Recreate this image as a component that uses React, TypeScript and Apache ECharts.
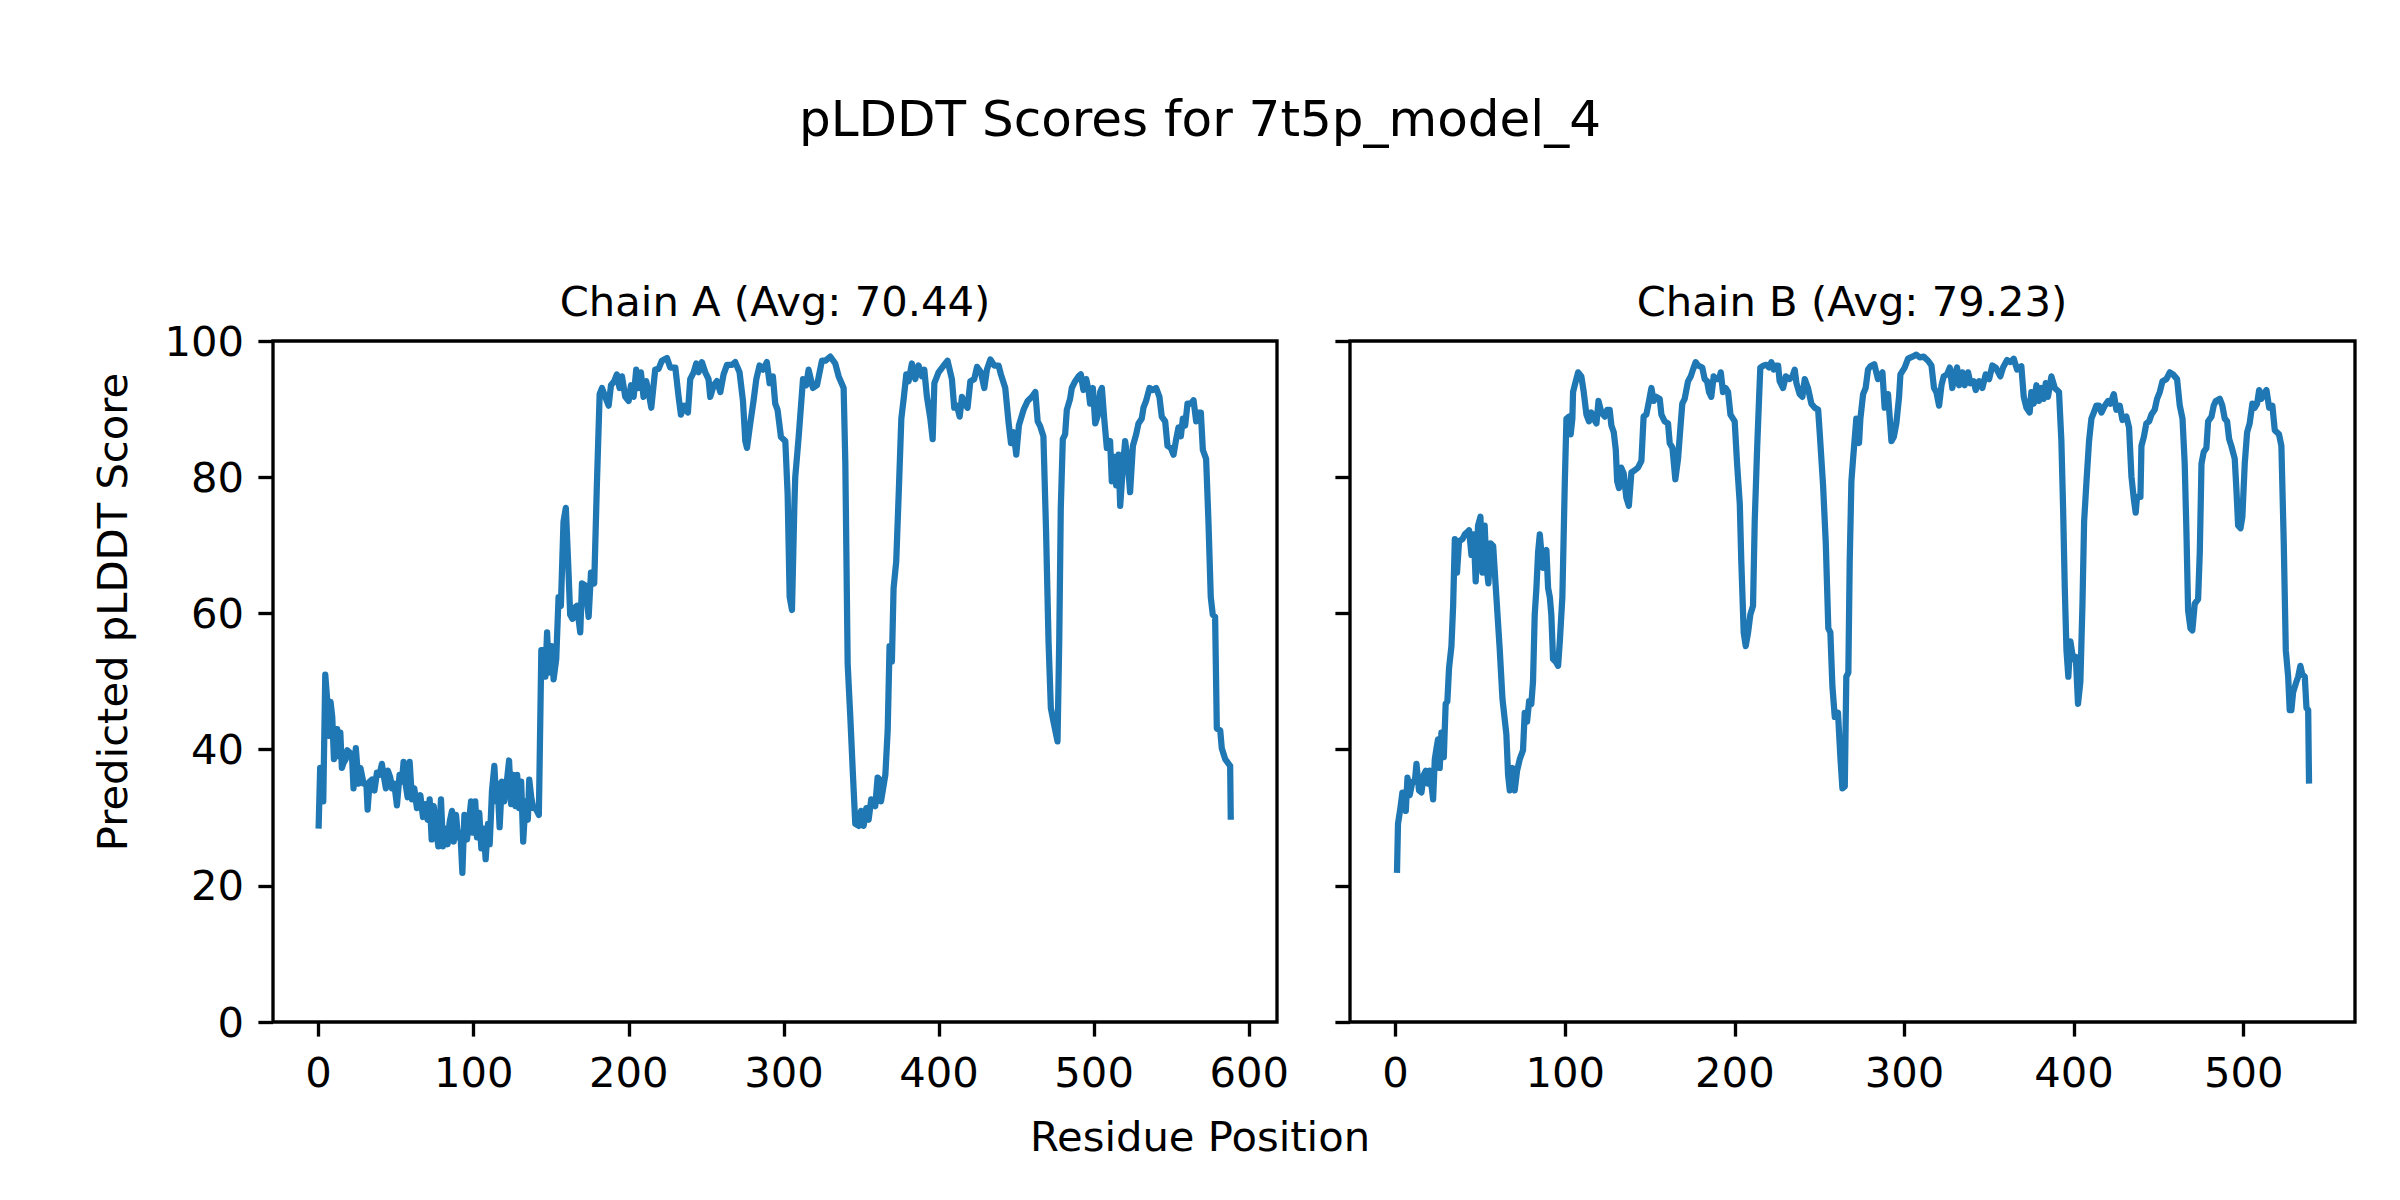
import React, { useEffect, useRef } from "react";
import * as echarts from "echarts";

const figureTitle = "pLDDT Scores for 7t5p_model_4";
const chainTitles = ["Chain A (Avg: 70.44)", "Chain B (Avg: 79.23)"];
const xAxisTitle = "Residue Position";
const yAxisTitle = "Predicted pLDDT Score";

const xTicksA = [0, 100, 200, 300, 400, 500, 600];
const xTicksB = [0, 100, 200, 300, 400, 500];
const yTicks = [0, 20, 40, 60, 80, 100];

const chainAData: number[][] = [
  [0, 28.4], [1, 37.3], [2, 37.3], [3, 32.4], [4.3, 51], [5.5, 47.4], [6.6, 42], [7.7, 47], [8.8, 44.8], [9.9, 38.6],
  [11, 43], [12, 43], [13, 39], [14, 42.5], [15, 37.3], [16, 38], [17.5, 38.6], [18.5, 39.9], [20.5, 39.5], [21.5, 39.2],
  [22.5, 34.3], [24, 40.2], [25.8, 35], [27, 37.3], [29, 35], [30.8, 35], [31.6, 31.2], [32.9, 35.3], [34.4, 35.6], [36, 34],
  [37.6, 36.6], [39.3, 36.3], [40.8, 37.9], [41.9, 36.3], [43.4, 34.3], [44.7, 36.9], [46.2, 35.9], [47.3, 34.3], [48.8, 35],
  [50.5, 31.8], [52.2, 36.3], [53.7, 35.3], [54.8, 38.2], [56.3, 34.6], [57.4, 33], [58.7, 38.2], [60.2, 32.7], [61.7, 34.3],
  [63.4, 31.4], [65.6, 33.3], [67.3, 30.1], [68.8, 32], [70.3, 29.7], [71.6, 32.7], [72.9, 26.8], [74.2, 31.7], [75.7, 28.4],
  [77.2, 25.8], [78.9, 32.7], [80.2, 25.8], [81.7, 28.4], [83.2, 26.1], [84.5, 29.4], [86, 31], [87.1, 26.5], [88.6, 30.4],
  [89.9, 27.1], [91.4, 27.8], [92.7, 21.9], [94, 30.4], [95.7, 26.8], [96.8, 29.1], [98.3, 32.4], [99.6, 27.8], [101, 32.4],
  [102.1, 27.1], [103.6, 30.7], [104.9, 25.5], [106.4, 28.4], [107.7, 23.9], [109.2, 29.1], [110.3, 26.1], [111.8, 34],
  [113.3, 37.6], [114.6, 32.4], [115.4, 35], [116.7, 28.6], [118.2, 35.3], [119.7, 32.4], [121.5, 35.6], [122.8, 38.4],
  [124.1, 32], [125.4, 36.3], [126.9, 31.7], [128, 36.3], [129.3, 31.4], [130.6, 35.3], [131.9, 26.5], [133.4, 32.4],
  [134.9, 29.7], [135.8, 35.6], [137.1, 33], [138.4, 31.4], [139.9, 31.4], [142, 30.4],
  [143.6, 54.6], [144.9, 54.6], [146.2, 50.7], [147.3, 57.2], [148.5, 51.3], [150.4, 55.2], [151.5, 50.3], [153.2, 53.3],
  [154.7, 62.4], [156.2, 61.1], [157.9, 73.5], [159.4, 75.5], [161.2, 65.7], [162.2, 59.8], [163.7, 59.2], [165, 60.8],
  [166.5, 61.1], [168.7, 57.2], [169.8, 64.4], [171.9, 64.1], [174.1, 59.5], [175.6, 66], [177.7, 64.4], [179.4, 78.8],
  [181.2, 92.2], [182.7, 93.1], [184.8, 91.8], [187, 90.5], [188.5, 93.5], [190.6, 94.1], [192.3, 95.1], [194, 93.1],
  [195.6, 94.8], [197.7, 91.8], [199.9, 91.2], [201.4, 93.5], [203.1, 91.8], [204.8, 95.8], [206.3, 93.1], [207.8, 95.4],
  [209.5, 91.8], [211.2, 94.1], [212.7, 92.5], [214.5, 90.2], [217, 95.8], [219.2, 95.9], [221.3, 97.1], [224.6, 97.5],
  [226.7, 96.1], [230, 96.1], [232.1, 91.8], [233.6, 89.2], [235.7, 90.5], [238.1, 89.5], [239.6, 94.4], [241.8, 95.4],
  [243.5, 96.7], [245, 95.4], [247.1, 96.9], [249.3, 95.4], [251.4, 94.4], [252.5, 91.8], [254.7, 93.5], [256.8, 94.1],
  [259, 92.5], [261.1, 95.1], [263.3, 96.5], [266.5, 96.5], [268.6, 96.9], [271.4, 95.4], [273.6, 91.2], [275.1, 85.3],
  [276.2, 84.3], [278.3, 87.9], [280.4, 91.2], [282.2, 94.4], [284.3, 96.4], [286.5, 95.8], [289, 96.9], [290.8, 93.8],
  [292.9, 94.8], [294.4, 90.8], [295.9, 89.9], [298.1, 85.9], [300.9, 85.3], [302.4, 77.5], [303.7, 62.4], [305.2, 60.5],
  [306.7, 75.5], [307.3, 80], [309.5, 85.9], [312.3, 94.4], [314.4, 93.5], [315.9, 95.8], [318.7, 93.1], [321.3, 93.5],
  [324.5, 97.1], [326.7, 97.1], [329.9, 97.7], [333.1, 96.7], [335.3, 94.8], [338.5, 93.1], [339.6, 82], [341.1, 52.6],
  [342.8, 44.8], [344.5, 36.3], [346, 29.1], [348.2, 28.8], [349.7, 31], [351.4, 28.8], [353.1, 31.4], [354.6, 29.7],
  [356.3, 32.7], [358.9, 31.7], [360.4, 35.9], [361.7, 35.6], [362.6, 32.4], [365.4, 36.3], [366.9, 42.8], [368.1, 55.2],
  [369.6, 52.9], [370.7, 63.7], [372.4, 67.6], [374, 77.5], [375.7, 88.6], [377.2, 91.5], [378.9, 95.1], [380.4, 94.1],
  [382.5, 96.7], [384.7, 94.4], [386.8, 96.4], [389, 94.8], [390.5, 95.8], [392.2, 91.8], [394.4, 88.6], [395.9, 85.6],
  [397, 93.8], [399.7, 95.4], [403, 96.4], [405.5, 97.1], [408.3, 94.4], [409.8, 90.2], [411.6, 90.5], [413.3, 88.9],
  [414.8, 91.8], [416.3, 90.8], [418.4, 90.2], [420.2, 94.1], [422.7, 94.4], [424.5, 96.2], [427, 95.4], [429.2, 93.1],
  [430.9, 95.8], [433.1, 97.3], [435.6, 96.4], [438.4, 96.4], [439.9, 95.1], [442.7, 93.1], [444.9, 87.9], [446.4, 85],
  [448.1, 86.6], [449.8, 83.3], [451.5, 87.6], [454.5, 89.9], [457.1, 91.2], [459.9, 91.8], [462.1, 92.5], [463.6, 88.2],
  [465.2, 87.5], [467.3, 86], [469, 72.2], [470.6, 55.9], [472.1, 46.1], [473.8, 44.1], [476.4, 41.2], [477.5, 55.9],
  [478.5, 75.5], [479.8, 85.6], [481.3, 86.3], [482.4, 89.9], [484.5, 91.5], [485.6, 93.1], [487.8, 94.1], [489.9, 94.8],
  [491.4, 95.1], [493.1, 92.8], [494.9, 94.4], [496.4, 92.8], [497.4, 90.8], [499.2, 93.1], [500.7, 87.9], [502.2, 88.9],
  [503.9, 92.5], [505, 93.1], [506.5, 88.6], [508.2, 84.3], [510.3, 85.3], [511.4, 79.4], [512.9, 83], [514.2, 78.8],
  [515.7, 83.3], [516.8, 75.8], [518.5, 81.4], [520, 85.3], [521.5, 82.7], [523.2, 77.8], [525, 84.6], [527.1, 86.3],
  [528.6, 87.9], [530.7, 88.6], [531.8, 90.2], [533.5, 91.2], [535.7, 93.1], [537.8, 92.8], [540, 93.1], [542.1, 91.8],
  [543.6, 88.9], [545.8, 88.2], [547.3, 84.6], [549.4, 84.3], [551.2, 83.3], [552.9, 85.6], [554.4, 87.3], [555.9, 86],
  [557.2, 88.6], [558.7, 87.6], [560.2, 90.8], [562.3, 90.8], [564.1, 91.3], [565.8, 88.2], [567.3, 89.5], [568.8, 89.5],
  [570.1, 84], [572.2, 82.7], [573.7, 73.5], [575.2, 62.4], [576.5, 59.8], [578, 59.5], [579.1, 43.1], [581.3, 42.8],
  [582.3, 40.2], [584.5, 38.6], [587.7, 37.6], [588.1, 29.7],
];

const chainBData: number[][] = [
  [0.8, 21.9], [1.4, 29.1], [2.8, 31.4], [4, 33.7], [5, 33.7], [6, 31], [7, 35.9], [8.3, 33.3], [9.9, 35.3], [11.3, 35.3],
  [12.3, 37.9], [13.8, 34], [15.2, 33.7], [16.6, 36.3], [17.8, 36.9], [19.1, 35], [20.1, 36.9], [22.1, 32.7], [23.1, 38.6],
  [24.1, 40.2], [25, 41.5], [26, 37.3], [27, 42.5], [28.4, 38.9], [29.5, 46.7], [30.5, 47.1], [31.5, 52], [32.9, 55.2],
  [33.9, 61.1], [34.9, 70.9], [36.2, 66], [37.4, 70.6], [39.4, 70.9], [40.8, 71.6], [42.1, 71.9], [43.3, 72.2], [44.7, 68.6],
  [46.1, 71.6], [47.2, 64.7], [48.6, 72.9], [50, 74.2], [51.2, 66], [52.5, 72.9], [53.5, 67], [54.7, 64.4], [55.9, 70.3],
  [57.5, 69.9], [59.4, 62.4], [61.4, 54.6], [63, 47.4], [63.9, 45.4], [65.3, 42.2], [66.3, 36.3], [67.3, 34], [68.9, 37.3],
  [70.2, 34], [71.6, 36.9], [73.2, 38.6], [75.1, 39.9], [76.1, 45.4], [77.5, 44.1], [78.7, 47.1], [80, 46.7], [81, 50],
  [82, 59.8], [83, 63.7], [84, 69], [85, 71.6], [85.9, 69], [86.9, 66.7], [87.9, 69], [88.9, 69.3], [89.9, 63.7],
  [90.9, 62.4], [91.8, 59.8], [92.8, 53.3], [94.4, 52.9], [95.8, 52.3], [96.8, 55.9], [98.3, 62.4], [99.7, 78.8],
  [100.7, 88.6], [102.3, 88.9], [103.2, 86.3], [104.2, 88.6], [104.6, 92.5], [106.2, 94.1], [107.6, 95.4], [109.5, 94.8],
  [110.9, 92.5], [112.5, 89.2], [114, 88.2], [115.4, 89.5], [116.8, 88.6], [118.4, 87.9], [119.6, 91.2], [121.3, 89.5],
  [123.3, 88.9], [124.7, 89.9], [126.2, 89.9], [127.2, 87.6], [128.6, 86.6], [129.8, 84], [130.6, 79.4], [131.7, 78.4],
  [133, 81.4], [134.5, 80.5], [136, 77], [137.5, 75.8], [139, 80.7], [140.9, 81], [142.9, 81.4], [144.9, 82.4],
  [146.2, 88.9], [147.8, 89.2], [149.4, 91.2], [150.8, 93.1], [152.1, 91.2], [153.7, 91.8], [155.7, 91.5], [156.7, 89.2],
  [158.6, 88.2], [160.6, 87.9], [161.6, 85], [163.2, 84.3], [164.9, 79.7], [166.5, 82.7], [167.9, 87.3], [169, 90.8],
  [170.4, 91.5], [172.4, 94.1], [174, 94.8], [175.3, 95.8], [176.9, 96.9], [178.3, 96.4], [180.8, 96.1], [182.2, 94.4],
  [183.6, 94.1], [184.8, 92.5], [186.1, 91.8], [187.5, 94.8], [189.1, 94.4], [190.7, 94.4], [191.7, 95.4], [193, 92.5],
  [194.6, 93.1], [196, 92.5], [197.4, 89.2], [199.9, 88.2], [201.3, 82], [202.9, 76.1], [203.8, 67.6], [205.2, 57.2],
  [206.4, 55.2], [207.8, 57.2], [209.1, 59.8], [210.7, 61.1], [211.7, 73.5], [213.1, 84], [214.3, 91.8], [215, 96.1],
  [217, 96.4], [218.6, 96.5], [220.2, 96.1], [221.5, 96.9], [222.9, 95.8], [224.1, 96.4], [225.5, 96.4], [226.4, 94.1],
  [228.4, 93.1], [230, 94.8], [232.3, 94.4], [233.9, 94.8], [235.3, 95.8], [236.3, 93.8], [238.2, 92.2], [239.8, 91.8],
  [241.2, 94.4], [243.1, 93.1], [245.1, 90.8], [247.1, 90.2], [249.1, 89.9], [250, 86.6], [252, 78.8], [253.6, 70.3],
  [254.3, 64.4], [255.1, 57.8], [256.3, 57.2], [257.5, 49.3], [258.9, 44.8], [260.8, 45.4], [262.2, 38.9], [263.4, 34.3],
  [264.8, 34.6], [265.7, 50.7], [266.9, 51.3], [267.7, 67.6], [268.7, 79.4], [269.7, 82.7], [271.6, 88.6], [273.2, 85],
  [274, 88.6], [275.6, 92.2], [277.1, 93.1], [278.5, 95.8], [279.9, 96.3], [282.2, 96.6], [284.4, 94.4], [287, 95.4],
  [288.3, 90.2], [290.3, 92.2], [292.3, 85.3], [293.7, 85.9], [295.2, 87.9], [296.8, 91.8], [297.6, 95.1], [300.1, 96.1],
  [302.1, 97.4], [304.7, 97.7], [307, 98], [309, 97.6], [311.3, 97.7], [313.9, 97.1], [315.9, 96.4], [317.4, 93.1],
  [318.8, 92.5], [320.4, 90.5], [321.8, 93.5], [323.1, 94.8], [325.1, 95.1], [326.7, 96.1], [328.2, 93.1], [329.6, 95.1],
  [331, 96.1], [332.2, 93.5], [334.1, 95.4], [335.5, 93.5], [337.5, 95.4], [338.9, 93.8], [340.8, 94.1], [342, 92.8],
  [344, 94.1], [345.9, 93.1], [347.9, 95.1], [349.9, 94.4], [351.8, 96.4], [353.8, 96.1], [356.5, 94.8], [358.1, 96.1],
  [360.5, 97.2], [362.4, 96.9], [364.4, 97.4], [366.4, 95.8], [368.9, 96.3], [370.3, 91.8], [371.9, 90.2], [373.8, 89.5],
  [374.8, 92.5], [376.2, 90.8], [377.8, 93.5], [379.3, 91.2], [380.7, 93.1], [382.1, 91.5], [383.3, 93.8], [384.6, 91.8],
  [386.6, 94.8], [388.6, 93.1], [391.1, 92.5], [392.5, 85.3], [393.5, 75.5], [394.5, 63.7], [395.5, 54.6], [396.6, 50.7],
  [397.8, 55.9], [399.4, 53.3], [401, 53.6], [402.3, 46.7], [403.7, 50], [404.9, 61.1], [405.9, 73.5], [407.3, 79.4],
  [408.8, 85.3], [410.2, 88.6], [411.6, 89.5], [413.1, 90.5], [414.7, 90.5], [416.1, 89.5], [418.1, 90.5], [420, 91.2],
  [421.4, 90.8], [423.4, 92.2], [424.9, 89.9], [426.9, 90.5], [428.5, 88.4], [430.8, 88.9], [432.4, 87.3], [433.8, 80.1],
  [435.2, 76.8], [436.3, 74.8], [437.1, 77.1], [439.1, 77.1], [439.7, 84.6], [441.1, 85.9], [442.6, 87.9], [444.2, 88.2],
  [445.6, 89.2], [447.5, 89.9], [448.9, 91.5], [450.5, 92.5], [452.1, 94.1], [454.4, 94.4], [456.4, 95.4], [458.3, 95.1],
  [460.7, 94.4], [462.3, 90.5], [463.9, 88.6], [465.2, 82], [466.2, 72.2], [467.2, 60.5], [468.6, 57.8], [469.7, 57.5],
  [471.1, 61.4], [473.1, 62.1], [474.1, 69], [475.1, 82], [476.4, 83.7], [478, 84.3], [479, 88.2], [481, 88.9],
  [482.3, 90.5], [483.5, 91.2], [485.9, 91.5], [487.4, 90.5], [488.8, 88.6], [490.2, 88.2], [491.4, 85.6], [492.7, 84.6],
  [494.7, 82.7], [495.7, 78.1], [496.7, 72.9], [498.1, 72.5], [499.2, 74.2], [500.6, 82], [502, 86.6], [503.5, 87.9],
  [505.1, 90.8], [506.5, 90.2], [507.9, 90.8], [509.1, 92.8], [510.4, 91.5], [511.8, 92.2], [513.4, 92.8], [515, 90.2],
  [516.9, 90.5], [518.3, 86.9], [520.8, 86.3], [522.2, 84.6], [523.6, 70.3], [524.8, 54.6], [526.2, 50.7], [527.1, 45.8],
  [528.1, 45.8], [529.1, 48.4], [530.7, 49.7], [532.1, 50.7], [533.4, 52.3], [534.6, 51], [536, 50.7], [537, 46.1],
  [538, 45.8], [538.5, 35],
];

const FONT = "DejaVu Sans";
const TICK_FONT = 41.7;
const SPINE = 3.33;
const LINE_COLOR = "#1f77b4";

export default function App() {
  const ref = useRef<HTMLDivElement>(null);

  useEffect(() => {
    if (!ref.current) return;
    const chart = echarts.init(ref.current, null, { renderer: "svg" });

    const gridA = { left: 273, top: 341, width: 1004, height: 681 };
    const gridB = { left: 1350, top: 341, width: 1005, height: 681 };

    const makeX = (idx: number, min: number, max: number, ticks: number[]) => ({
      type: "value",
      gridIndex: idx,
      min,
      max,
      splitLine: { show: false },
      axisLine: { show: false, onZero: false },
      axisTick: {
        show: true,
        length: 14.6,
        lineStyle: { width: SPINE, color: "#000" },
        customValues: ticks,
      },
      axisLabel: {
        customValues: ticks,
        margin: 29,
        fontSize: TICK_FONT,
        color: "#000",
        fontFamily: FONT,
      },
    });

    const makeY = (idx: number, showLabels: boolean) => ({
      type: "value",
      gridIndex: idx,
      min: 0,
      max: 100,
      interval: 20,
      splitLine: { show: false },
      axisLine: { show: false, onZero: false },
      axisTick: {
        show: true,
        length: 14.6,
        lineStyle: { width: SPINE, color: "#000" },
        customValues: yTicks,
      },
      axisLabel: {
        show: showLabels,
        customValues: yTicks,
        margin: 29,
        fontSize: TICK_FONT,
        color: "#000",
        fontFamily: FONT,
      },
    });

    const textStyle = (size: number) => ({
      fill: "#000",
      fontSize: size,
      fontFamily: FONT,
      textAlign: "center",
      textVerticalAlign: "middle",
      align: "center",
      verticalAlign: "middle",
    });

    const option: any = {
      animation: false,
      backgroundColor: "#ffffff",
      grid: [
        { ...gridA, show: true, borderColor: "#000", borderWidth: SPINE, backgroundColor: "transparent", containLabel: false },
        { ...gridB, show: true, borderColor: "#000", borderWidth: SPINE, backgroundColor: "transparent", containLabel: false },
      ],
      xAxis: [makeX(0, -29.4, 617.9, xTicksA), makeX(1, -26.9, 565.6, xTicksB)],
      yAxis: [makeY(0, true), makeY(1, false)],
      series: [
        {
          type: "line",
          xAxisIndex: 0,
          yAxisIndex: 0,
          data: chainAData,
          showSymbol: false,
          symbol: "none",
          silent: true,
          lineStyle: { color: LINE_COLOR, width: 6.25, join: "round", cap: "butt" },
        },
        {
          type: "line",
          xAxisIndex: 1,
          yAxisIndex: 1,
          data: chainBData,
          showSymbol: false,
          symbol: "none",
          silent: true,
          lineStyle: { color: LINE_COLOR, width: 6.25, join: "round", cap: "butt" },
        },
      ],
      graphic: [
        { type: "text", x: 1200, y: 119, style: { text: figureTitle, ...textStyle(50) } },
        { type: "text", x: 775, y: 301, style: { text: chainTitles[0], ...textStyle(41.7) } },
        { type: "text", x: 1852, y: 301, style: { text: chainTitles[1], ...textStyle(41.7) } },
        { type: "text", x: 1200, y: 1136, style: { text: xAxisTitle, ...textStyle(41.7) } },
        { type: "text", x: 112, y: 612, rotation: Math.PI / 2, style: { text: yAxisTitle, ...textStyle(41.7) } },
      ],
    };

    chart.setOption(option);
    return () => chart.dispose();
  }, []);

  return (
    <div
      ref={ref}
      style={{ position: "absolute", left: 0, top: 0, width: 2400, height: 1200, background: "#fff" }}
    />
  );
}
